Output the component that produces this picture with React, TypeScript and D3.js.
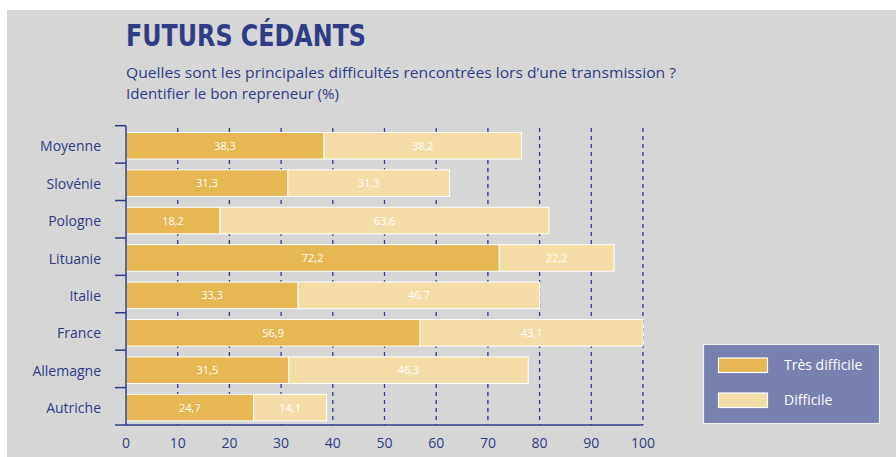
import React from 'react';
import * as d3 from 'd3';

const countries = ['Moyenne', 'Slovénie', 'Pologne', 'Lituanie', 'Italie', 'France', 'Allemagne', 'Autriche'];
const tresDifficile = [38.3, 31.3, 18.2, 72.2, 33.3, 56.9, 31.5, 24.7];
const difficile = [38.2, 31.3, 63.6, 22.2, 46.7, 43.1, 46.3, 14.1];
const xTicks = [0, 10, 20, 30, 40, 50, 60, 70, 80, 90, 100];
const seriesNames = ['Très difficile', 'Difficile'];

const W = 896, H = 457;
const navy = '#2f3c85';
const dark = '#e6b753';
const light = '#f3dca6';
const font = '"Open Sans", "DejaVu Sans", sans-serif';

const App = () => {
  const x = d3.scaleLinear().domain([0, 100]).range([126, 643]);
  const y = d3.scaleBand<string>().domain(countries).range([125.7, 425]).paddingInner(0).paddingOuter(0);
  const step = y.step();
  const barOff = step * 0.18;
  const barH = step * 0.71;
  const fmt = (v: number) => v.toFixed(1).replace('.', ',');

  const rows = countries.map((c, i) => ({ c, a: tresDifficile[i], b: difficile[i] }));

  return (
    <svg width={W} height={H} style={{ position: 'absolute', left: 0, top: 0 }} fontFamily={font}>
      <rect x={0} y={0} width={W} height={H} fill="#fff" />
      <rect x={7} y={10} width={W - 7} height={H - 10} fill="#d6d6d6" />

      {/* titles */}
      <text x={126} y={46} fill={navy} fontSize={31} fontWeight={700}
        fontFamily='"DejaVu Sans Condensed", "Open Sans", sans-serif'
        textLength={240} lengthAdjust="spacingAndGlyphs">FUTURS CÉDANTS</text>
      <text x={126} y={78} fill={navy} fontSize={14.5} textLength={550} lengthAdjust="spacingAndGlyphs">
        Quelles sont les principales difficultés rencontrées lors d’une transmission ?
      </text>
      <text x={126} y={99} fill={navy} fontSize={14.5} textLength={213} lengthAdjust="spacingAndGlyphs">
        Identifier le bon repreneur (%)
      </text>

      {/* dashed gridlines */}
      {xTicks.filter(t => t > 0).map(t => (
        <line key={t} x1={x(t)} x2={x(t)} y1={128} y2={425} stroke={navy} strokeWidth={1.3} strokeDasharray="4,4" />
      ))}

      {/* bars */}
      {rows.map(r => {
        const by = (y(r.c) as number) + barOff;
        const cy = by + barH / 2 + 4;
        return (
          <g key={r.c}>
            <rect x={x(0)} y={by} width={x(r.a) - x(0)} height={barH} fill={dark} stroke="#fff" strokeWidth={1} />
            <rect x={x(r.a)} y={by} width={x(r.a + r.b) - x(r.a)} height={barH} fill={light} stroke="#fff" strokeWidth={1} />
            <text x={(x(0) + x(r.a)) / 2} y={cy} textAnchor="middle" fill="#fff" fontSize={11}>{fmt(r.a)}</text>
            <text x={(x(r.a) + x(r.a + r.b)) / 2} y={cy} textAnchor="middle" fill="#fff" fontSize={11}>{fmt(r.b)}</text>
          </g>
        );
      })}

      {/* y axis */}
      <line x1={126} x2={126} y1={125.7} y2={425} stroke={navy} strokeWidth={1.5} />
      {countries.map(c => (
        <line key={c} x1={115} x2={126} y1={y(c) as number} y2={y(c) as number} stroke={navy} strokeWidth={1.5} />
      ))}
      {countries.map(c => (
        <text key={c} x={101} y={(y(c) as number) + step * 0.55 + 5} textAnchor="end" fill={navy} fontSize={14}>{c}</text>
      ))}

      {/* x axis */}
      <line x1={115} x2={643} y1={425} y2={425} stroke={navy} strokeWidth={1.5} />
      {xTicks.map(t => (
        <text key={t} x={x(t)} y={448} textAnchor="middle" fill={navy} fontSize={14}>{t}</text>
      ))}

      {/* legend */}
      <rect x={703.5} y={344.5} width={176} height={79} fill="#7880b0" stroke="#eee" strokeWidth={1.2} />
      {seriesNames.map((s, i) => (
        <g key={s}>
          <rect x={718.5} y={358 + i * 35} width={49} height={14.5} fill={i === 0 ? dark : light} stroke="#fff" strokeWidth={1.2} />
          <text x={784} y={370 + i * 35} fill="#fff" fontSize={14}>{s}</text>
        </g>
      ))}
    </svg>
  );
};

export default App;
